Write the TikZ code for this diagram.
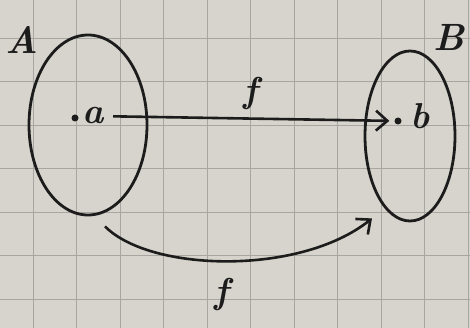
\documentclass[tikz,border=0pt]{standalone}
\usepackage{fontspec}
\usepackage{tikz}
\usetikzlibrary{arrows.meta,shapes.geometric}
\definecolor{paper}{RGB}{214,212,204}
\definecolor{gridline}{RGB}{168,166,160}
\definecolor{ink}{RGB}{28,28,28}

\begin{document}
\begin{tikzpicture}[
    x=1pt,y=-1pt,
    set/.style={draw=ink,line width=2.8pt,ellipse,inner sep=0pt},
    dotpt/.style={circle,fill=ink,inner sep=0pt,minimum size=7pt},
    setname/.style={text=ink,font=\fontsize{38}{42}\selectfont\bfseries\itshape},
    elname/.style={text=ink,font=\fontsize{36}{40}\selectfont\bfseries\itshape},
    map/.style={draw=ink,line width=2.6pt,-{Straight Barb[length=4mm,width=7mm]}}
]
% squared paper
\fill[paper] (0,0) rectangle (470,328);
\useasboundingbox (0,0) rectangle (470,328);
\foreach \gx in {33,76.5,...,470}
    \draw[gridline,line width=0.9pt] (\gx,0) -- (\gx,328);
\foreach \gy in {38,81.5,...,328}
    \draw[gridline,line width=0.9pt] (0,\gy) -- (470,\gy);

% the two sets
\node[set,minimum width=118pt,minimum height=180pt] (A) at (88,125) {};
\node[set,minimum width=90pt,minimum height=170pt] (B) at (410,136) {};
\node[setname] (nameA) at (22,40) {A};
\node[setname] (nameB) at (449,37) {B};

% elements
\node[dotpt] (a) at (75,118) {};
\node[elname] (aname) at (93,116) {a};
\node[dotpt] (b) at (398,121) {};
\node[elname] (bname) at (420,116) {b};

% maps
\draw[map,shorten <=6pt,shorten >=5pt] (aname) -- (b)
    node[elname,midway,above=4pt] (f1) {f};
\draw[map] ([xshift=17pt,yshift=-10pt]A.south)
    .. controls (150,272) and (300,276) .. ([xshift=-38pt,yshift=4pt]B.south)
    node[elname,pos=0.48,below=12pt] (f2) {f};
\end{tikzpicture}
\end{document}
